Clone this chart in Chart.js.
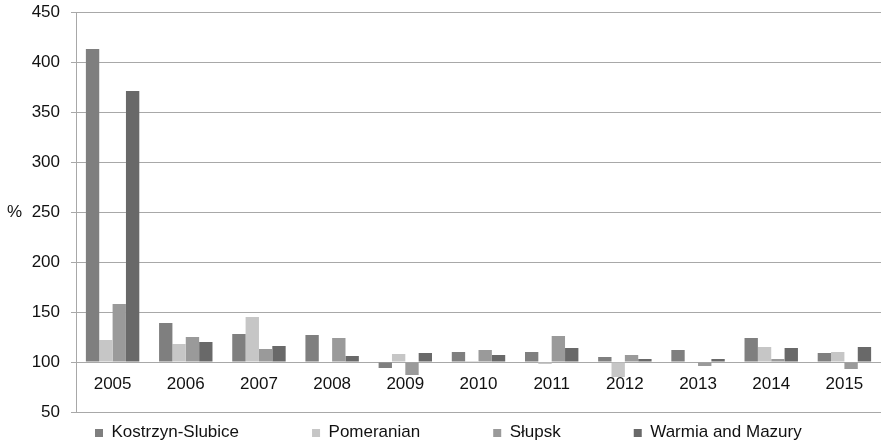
<!DOCTYPE html>
<html>
<head>
<meta charset="utf-8">
<script src="https://cdn.jsdelivr.net/npm/chart.js@4/dist/chart.umd.min.js"></script>
<style>
  html, body { margin: 0; padding: 0; background: #ffffff; }
  #c { display: block; }
</style>
</head>
<body>
<canvas id="c" width="881" height="445"></canvas>
<script>
// Annual index values (%), previous year = 100
const years = ['2005', '2006', '2007', '2008', '2009', '2010', '2011', '2012', '2013', '2014', '2015'];
const kostrzynSlubice = [413, 139, 128, 127, 94, 110, 110, 105, 112, 124, 109];
const pomeranian      = [122, 118, 145, 100, 108, 101, 98, 85, 100, 115, 110];
const slupsk          = [158, 125, 113, 124, 87, 112, 126, 107, 96, 103, 93];
const warmiaMazury    = [371, 120, 116, 106, 109, 107, 114, 103, 103, 114, 115];
const seriesNames = ['Kostrzyn-Slubice', 'Pomeranian', 'Słupsk', 'Warmia and Mazury'];
const baseline = 100;
const yMin = 50, yMax = 450, yStep = 50;
const yTitle = '%';

const FONT_FAMILY = '"Liberation Sans", Arial, Helvetica, sans-serif';
const FONT_SIZE = 17;
const TEXT_COLOR = '#111111';
const GRID_COLOR = '#a8a8a8';
const COLORS = ['#7f7f7f', '#c6c6c6', '#9a9a9a', '#696969'];

// Horizontal "%" label beside the value axis
const yTitlePlugin = {
  id: 'yTitle',
  afterDraw(chart) {
    const { ctx, chartArea } = chart;
    ctx.save();
    ctx.font = FONT_SIZE + 'px ' + FONT_FAMILY;
    ctx.fillStyle = TEXT_COLOR;
    ctx.textAlign = 'left';
    ctx.textBaseline = 'middle';
    ctx.fillText(yTitle, 7, (chartArea.top + chartArea.bottom) / 2);
    ctx.restore();
  }
};

// Single-row legend under the plot with wide spacing between entries
const bottomLegendPlugin = {
  id: 'bottomLegend',
  afterDraw(chart) {
    const { ctx } = chart;
    const box = 8, textGap = 8.5, itemGap = 73, rowY = 433, centerX = 448;
    ctx.save();
    ctx.font = FONT_SIZE + 'px ' + FONT_FAMILY;
    const items = chart.data.datasets.map(ds => ({
      label: ds.label,
      color: ds.backgroundColor,
      width: box + textGap + ctx.measureText(ds.label).width
    }));
    const total = items.reduce((s, it) => s + it.width, 0) + itemGap * (items.length - 1);
    let x = Math.round(centerX - total / 2);
    ctx.textBaseline = 'middle';
    ctx.textAlign = 'left';
    items.forEach(it => {
      ctx.fillStyle = it.color;
      ctx.fillRect(x, rowY - box / 2, box, box);
      ctx.fillStyle = TEXT_COLOR;
      ctx.fillText(it.label, x + box + textGap, rowY - 1);
      x += it.width + itemGap;
    });
    ctx.restore();
  }
};

const seriesValues = [kostrzynSlubice, pomeranian, slupsk, warmiaMazury];

new Chart(document.getElementById('c'), {
  type: 'bar',
  data: {
    labels: years,
    datasets: seriesValues.map((vals, i) => ({
      label: seriesNames[i],
      data: vals,
      base: baseline,
      backgroundColor: COLORS[i],
      borderWidth: 0,
      categoryPercentage: 0.73,
      barPercentage: 1.0
    }))
  },
  options: {
    responsive: false,
    animation: false,
    devicePixelRatio: 1,
    layout: { padding: { left: 14, right: 0, top: 12, bottom: 33 } },
    plugins: {
      legend: { display: false },
      tooltip: { enabled: false }
    },
    scales: {
      x: {
        position: { y: baseline },
        grid: { display: false },
        border: { display: false },
        ticks: {
          color: TEXT_COLOR,
          font: { family: FONT_FAMILY, size: FONT_SIZE },
          padding: 4,
          maxRotation: 0,
          autoSkip: false
        },
        afterFit(scale) { scale.height = 0; }
      },
      y: {
        min: yMin,
        max: yMax,
        ticks: {
          stepSize: yStep,
          color: TEXT_COLOR,
          font: { family: FONT_FAMILY, size: FONT_SIZE },
          padding: 11
        },
        grid: { color: GRID_COLOR, lineWidth: 1, tickLength: 5 },
        border: { color: GRID_COLOR },
        afterFit(scale) {
          scale.width = 62;
          scale.paddingTop = 0;
          scale.paddingBottom = 0;
        }
      }
    }
  },
  plugins: [yTitlePlugin, bottomLegendPlugin]
});
</script>
</body>
</html>
